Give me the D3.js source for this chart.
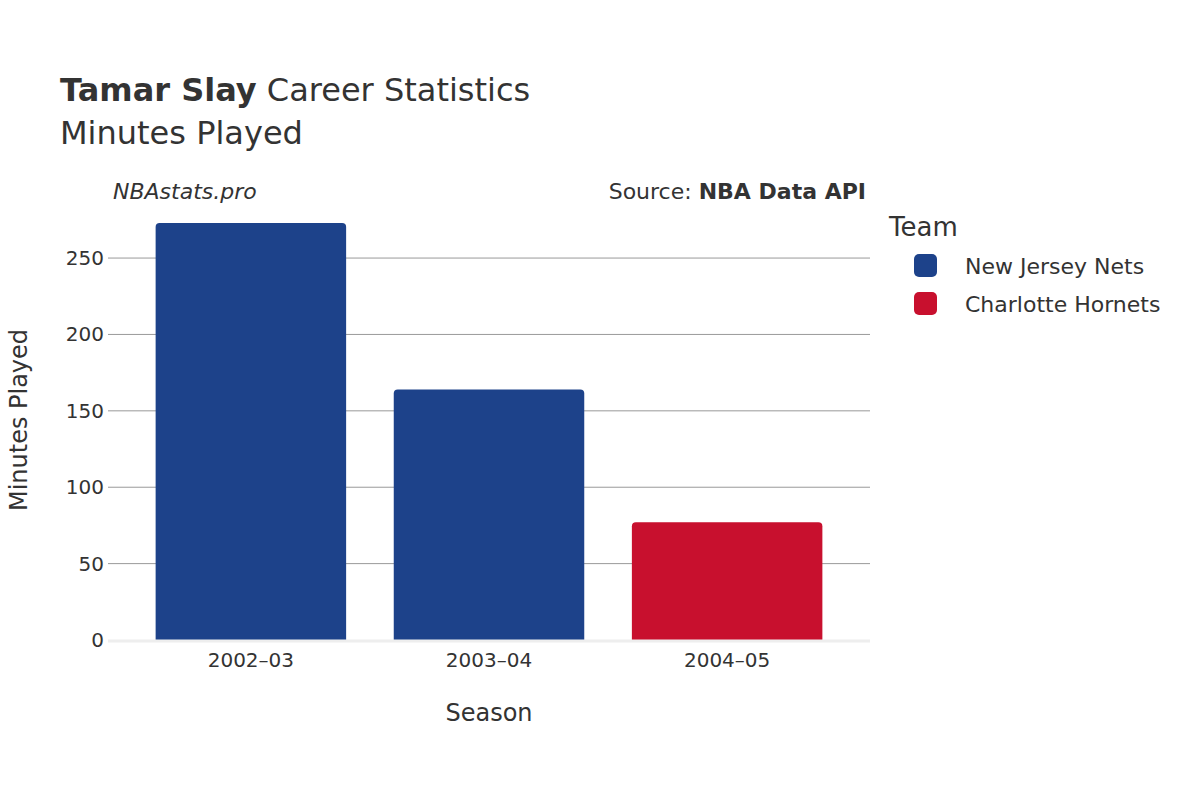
<!DOCTYPE html>
<html>
<head>
<meta charset="utf-8">
<script src="https://cdn.jsdelivr.net/npm/d3@7"></script>
<style>
body { margin: 0; background: #fff; }
text { font-family: "DejaVu Sans", sans-serif; fill: #333; }
</style>
</head>
<body>
<div id="chart"></div>
<script>
const seasons = ["2002–03", "2003–04", "2004–05"]
const minutes = [273, 164, 77]
const teams = ["New Jersey Nets", "New Jersey Nets", "Charlotte Hornets"]
const legendTeams = ["New Jersey Nets", "Charlotte Hornets"]
const teamColors = ["#1d428a", "#c8102e"]
const yTicks = [0, 50, 100, 150, 200, 250]

const width = 1200, height = 800
const plotLeft = 108, plotRight = 870, plotTop = 200, plotBottom = 640

const svg = d3.select("#chart").append("svg")
	.attr("width", width)
	.attr("height", height)

const x = d3.scaleBand().domain(seasons).range([plotLeft, plotRight]).padding(0.2)
const y = d3.scaleLinear().domain([0, 288]).range([plotBottom, plotTop])
const color = d3.scaleOrdinal().domain(legendTeams).range(teamColors)

// grid lines
svg.append("g").selectAll("line")
	.data(yTicks.filter(d => d > 0))
	.join("line")
	.attr("x1", plotLeft).attr("x2", plotRight)
	.attr("y1", d => y(d)).attr("y2", d => y(d))
	.attr("stroke", "#999").attr("stroke-width", 1)

// bars
svg.append("g").selectAll("path")
	.data(seasons)
	.join("path")
	.attr("fill", (d, i) => color(teams[i]))
	.attr("d", (d, i) => {
		let x0 = x(d), w = x.bandwidth(), y0 = y(minutes[i]), r = 4
		return `M${x0},${plotBottom}V${y0 + r}Q${x0},${y0} ${x0 + r},${y0}H${x0 + w - r}Q${x0 + w},${y0} ${x0 + w},${y0 + r}V${plotBottom}Z`
	})

// zero line
svg.append("line")
	.attr("x1", plotLeft).attr("x2", plotRight)
	.attr("y1", plotBottom + 1).attr("y2", plotBottom + 1)
	.attr("stroke", "#eee").attr("stroke-width", 3)

// y axis labels
svg.append("g").selectAll("text")
	.data(yTicks)
	.join("text")
	.attr("x", plotLeft - 4)
	.attr("y", d => y(d))
	.attr("dy", "0.35em")
	.attr("text-anchor", "end")
	.style("font-size", "20px")
	.text(d => d)

// x axis labels
svg.append("g").selectAll("text")
	.data(seasons)
	.join("text")
	.attr("x", d => x(d) + x.bandwidth() / 2)
	.attr("y", 667)
	.attr("text-anchor", "middle")
	.style("font-size", "20px")
	.text(d => d)

svg.append("text").attr("x", 489).attr("y", 721).attr("text-anchor", "middle")
	.style("font-size", "24px").text("Season")
svg.append("text").attr("transform", "translate(27,420) rotate(-90)").attr("text-anchor", "middle")
	.style("font-size", "24px").text("Minutes Played")

// titles
let t = svg.append("text").attr("x", 60).attr("y", 101).style("font-size", "32px")
t.append("tspan").style("font-weight", "bold").text("Tamar Slay")
t.append("tspan").text(" Career Statistics")
svg.append("text").attr("x", 60).attr("y", 144).style("font-size", "32px").text("Minutes Played")

svg.append("text").attr("x", 113).attr("y", 199).style("font-size", "22px")
	.style("font-style", "italic").text("NBAstats.pro")
let s = svg.append("text").attr("x", 866).attr("y", 199).attr("text-anchor", "end").style("font-size", "22px")
s.append("tspan").text("Source: ")
s.append("tspan").style("font-weight", "bold").text("NBA Data API")

// legend
svg.append("text").attr("x", 889).attr("y", 236).style("font-size", "26px").text("Team")
let lg = svg.append("g").selectAll("g")
	.data(legendTeams)
	.join("g")
	.attr("transform", (d, i) => `translate(914,${254 + i * 38})`)
lg.append("rect").attr("width", 23).attr("height", 23).attr("rx", 5)
	.attr("fill", d => color(d))
lg.append("text").attr("x", 51).attr("y", 12).attr("dy", "0.35em")
	.style("font-size", "22px").text(d => d)
</script>
</body>
</html>
